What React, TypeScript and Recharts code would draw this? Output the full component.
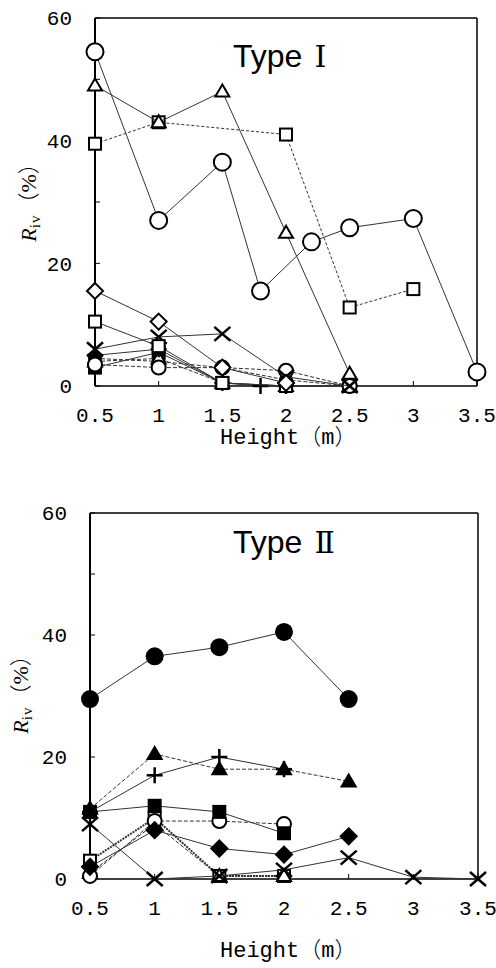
import React from "react";
import { ScatterChart, Scatter, XAxis, YAxis, ReferenceLine } from "recharts";

const heightTicks = [0.5, 1, 1.5, 2, 2.5, 3, 3.5];
const rivTicks = [0, 10, 20, 30, 40, 50, 60];
const heights = [0.5, 1, 1.5, 2, 2.5];

// Type I
const t1BigCircleX = [0.5, 1, 1.5, 1.8, 2.2, 2.5, 3, 3.5];
const t1BigCircleY = [54.5, 27, 36.5, 15.5, 23.5, 25.8, 27.3, 2.3];
const t1TriangleY = [49, 43, 48, 25, 2];
const t1SquareX = [0.5, 1, 2, 2.5, 3];
const t1SquareY = [39.5, 43, 41, 12.8, 15.8];
const t1DiamondY = [15.5, 10.5, 3, 0.5];
const t1SmallSquareY = [10.5, 6.5, 0.5, 0];
const t1CrossY = [6, 8, 8.5, 1.5, 0];
const t1CircleY = [3.5, 3, 3, 2.5, 0];
const t1PlusX = [0.5, 1, 1.5, 1.8, 2, 2.5];
const t1PlusY = [5, 6, 0.5, 0, 0, 0];
const t1SmallTriangleY = [4, 4.5, 0.5, 0, 0];
const t1DotY = [4.5, 4, 3, 1, 0];
const t1BlockY = [3, 5.5, 0.5, 0, 0];

// Type II
const t2BigDotY = [29.5, 36.5, 38, 40.5, 29.5];
const t2TriangleY = [11.5, 20.5, 18, 18, 16];
const t2PlusY = [11, 17, 20, 18];
const t2BlockY = [11, 12, 11, 7.5];
const t2CircleY = [0.5, 9.5, 9.5, 9];
const t2DiamondY = [2, 8, 5, 4, 7];
const t2CrossY = [9, 0, 0.5, 1.5, 3.5, 0.3, 0];
const t2SquareY = [3, 10, 0.5, 0.5];
const t2OpenTriangleY = [1, 9, 0.5, 0.5];

const pts = (xs: number[], ys: number[]) => ys.map((y, i) => ({ x: xs[i], y }));

type Kind =
  | "circle" | "bigCircle" | "dot" | "bigDot"
  | "tri" | "triF" | "sq" | "sqF" | "dia" | "diaF" | "x" | "plus";

const marker = (kind: Kind) => (props: any) => {
  const { cx, cy } = props;
  if (cx == null || cy == null) return <g />;
  const k = "#000";
  switch (kind) {
    case "bigCircle":
      return <circle cx={cx} cy={cy} r={8.5} fill="#fff" stroke={k} strokeWidth={2} />;
    case "circle":
      return <circle cx={cx} cy={cy} r={7} fill="#fff" stroke={k} strokeWidth={2} />;
    case "bigDot":
      return <circle cx={cx} cy={cy} r={9} fill={k} />;
    case "dot":
      return <circle cx={cx} cy={cy} r={7} fill={k} />;
    case "tri":
    case "triF":
      return (
        <polygon
          points={`${cx},${cy - 7} ${cx - 7},${cy + 5} ${cx + 7},${cy + 5}`}
          fill={kind === "triF" ? k : "#fff"}
          stroke={k}
          strokeWidth={2}
        />
      );
    case "sq":
    case "sqF":
      return (
        <rect x={cx - 6} y={cy - 6} width={12} height={12}
          fill={kind === "sqF" ? k : "#fff"} stroke={k} strokeWidth={2} />
      );
    case "dia":
    case "diaF":
      return (
        <polygon
          points={`${cx},${cy - 8} ${cx + 8},${cy} ${cx},${cy + 8} ${cx - 8},${cy}`}
          fill={kind === "diaF" ? k : "#fff"}
          stroke={k}
          strokeWidth={2}
        />
      );
    case "x":
      return (
        <g stroke={k} strokeWidth={2.5}>
          <line x1={cx - 8} y1={cy - 7} x2={cx + 8} y2={cy + 7} />
          <line x1={cx - 8} y1={cy + 7} x2={cx + 8} y2={cy - 7} />
        </g>
      );
    case "plus":
      return (
        <g stroke={k} strokeWidth={2.5}>
          <line x1={cx - 8} y1={cy} x2={cx + 8} y2={cy} />
          <line x1={cx} y1={cy - 8} x2={cx} y2={cy + 8} />
        </g>
      );
  }
};

type Series = { name: string; data: { x: number; y: number }[]; kind: Kind; dash?: string; width?: number };

const typeISeries: Series[] = [
  { name: "block", data: pts(heights, t1BlockY), kind: "sqF" },
  { name: "dot", data: pts(heights, t1DotY), kind: "dot", dash: "4 2" },
  { name: "smallTri", data: pts(heights, t1SmallTriangleY), kind: "tri", dash: "4 2" },
  { name: "plus", data: pts(t1PlusX, t1PlusY), kind: "plus" },
  { name: "circle", data: pts(heights, t1CircleY), kind: "circle", dash: "4 2" },
  { name: "cross", data: pts(heights, t1CrossY), kind: "x" },
  { name: "smallSq", data: pts(heights, t1SmallSquareY), kind: "sq" },
  { name: "diamond", data: pts(heights, t1DiamondY), kind: "dia" },
  { name: "square", data: pts(t1SquareX, t1SquareY), kind: "sq", dash: "3 2" },
  { name: "triangle", data: pts(heights, t1TriangleY), kind: "tri" },
  { name: "bigCircle", data: pts(t1BigCircleX, t1BigCircleY), kind: "bigCircle" },
];

const typeIISeries: Series[] = [
  { name: "square", data: pts(heights, t2SquareY), kind: "sq", dash: "2 1", width: 2 },
  { name: "openTri", data: pts(heights, t2OpenTriangleY), kind: "tri", dash: "4 2" },
  { name: "circle", data: pts(heights, t2CircleY), kind: "circle", dash: "4 2" },
  { name: "diamond", data: pts(heights, t2DiamondY), kind: "diaF" },
  { name: "cross", data: pts(heightTicks, t2CrossY), kind: "x" },
  { name: "block", data: pts(heights, t2BlockY), kind: "sqF" },
  { name: "plus", data: pts(heights, t2PlusY), kind: "plus" },
  { name: "triangle", data: pts(heights, t2TriangleY), kind: "triF", dash: "4 2" },
  { name: "bigDot", data: pts(heights, t2BigDotY), kind: "bigDot" },
];

const tickFont = { fill: "#000", fontSize: 21, fontFamily: "'Liberation Mono', monospace" };

function Panel({ series, margin }: { series: Series[]; margin: any }) {
  return (
    <ScatterChart width={496} height={484} margin={margin}>
      <XAxis
        type="number"
        dataKey="x"
        domain={[0.5, 3.5]}
        ticks={heightTicks}
        interval={0}
        height={30}
        tickSize={-5}
        tickMargin={26}
        tick={tickFont}
        axisLine={{ stroke: "#000", strokeWidth: 1.5 }}
        tickLine={{ stroke: "#000" }}
      />
      <YAxis
        type="number"
        dataKey="y"
        domain={[0, 60]}
        ticks={rivTicks}
        interval={0}
        width={60}
        tickSize={-5}
        tickMargin={28}
        tick={tickFont}
        tickFormatter={(v: number) => (v % 20 === 0 ? String(v) : "")}
        axisLine={{ stroke: "#000", strokeWidth: 2 }}
        tickLine={{ stroke: "#000" }}
      />
      <ReferenceLine y={60} stroke="#000" strokeWidth={1.5} />
      <ReferenceLine x={3.5} stroke="#000" strokeWidth={1.5} />
      {series.map((s) => (
        <Scatter
          key={s.name}
          name={s.name}
          data={s.data}
          isAnimationActive={false}
          line={{ stroke: "#333", strokeWidth: s.width ?? 1, strokeDasharray: s.dash }}
          lineJointType="linear"
          shape={marker(s.kind)}
        />
      ))}
    </ScatterChart>
  );
}

const textBase: React.CSSProperties = { position: "absolute", color: "#000", whiteSpace: "nowrap" };

function YLabel({ cx, cy }: { cx: number; cy: number }) {
  return (
    <div
      style={{
        ...textBase,
        left: cx - 70,
        top: cy - 13,
        width: 140,
        height: 26,
        lineHeight: "26px",
        textAlign: "center",
        transform: "rotate(-90deg)",
        fontFamily: "'Liberation Serif', 'Noto Sans CJK JP', serif",
        fontSize: 22,
      }}
    >
      <i>R</i>
      <span style={{ fontSize: 15, verticalAlign: "-4px", letterSpacing: 1 }}>iv</span>
      <span style={{ fontWeight: 300 }}>（%）</span>
    </div>
  );
}

function Title({ top, text }: { top: number; text: string }) {
  return (
    <div style={{ ...textBase, left: 233, top, fontSize: 32, lineHeight: "32px", fontFamily: "'Liberation Sans', Arial, sans-serif" }}>
      Type<span style={{ marginLeft: 12, fontFamily: "'DejaVu Serif', 'Noto Sans CJK JP', serif", fontSize: 30 }}>{text}</span>
    </div>
  );
}

function XLabel({ top }: { top: number }) {
  return (
    <div style={{ ...textBase, left: 220, top, fontSize: 22, lineHeight: "24px", fontFamily: "'Liberation Mono', 'Noto Sans CJK JP', monospace" }}>
      Height<span style={{ fontWeight: 300 }}>（m）</span>
    </div>
  );
}

export default function App() {
  return (
    <div style={{ position: "absolute", left: 0, top: 0, width: 496, height: 968, background: "#fff" }}>
      <div style={{ position: "absolute", left: 0, top: 0 }}>
        <Panel series={typeISeries} margin={{ top: 18, right: 19, left: 35, bottom: 68 }} />
      </div>
      <div style={{ position: "absolute", left: 0, top: 484 }}>
        <Panel series={typeIISeries} margin={{ top: 29, right: 18, left: 30, bottom: 59 }} />
      </div>
      <Title top={40} text="Ⅰ" />
      <Title top={526} text="Ⅱ" />
      <YLabel cx={29} cy={197} />
      <YLabel cx={21} cy={689} />
      <XLabel top={427} />
      <XLabel top={940} />
    </div>
  );
}
